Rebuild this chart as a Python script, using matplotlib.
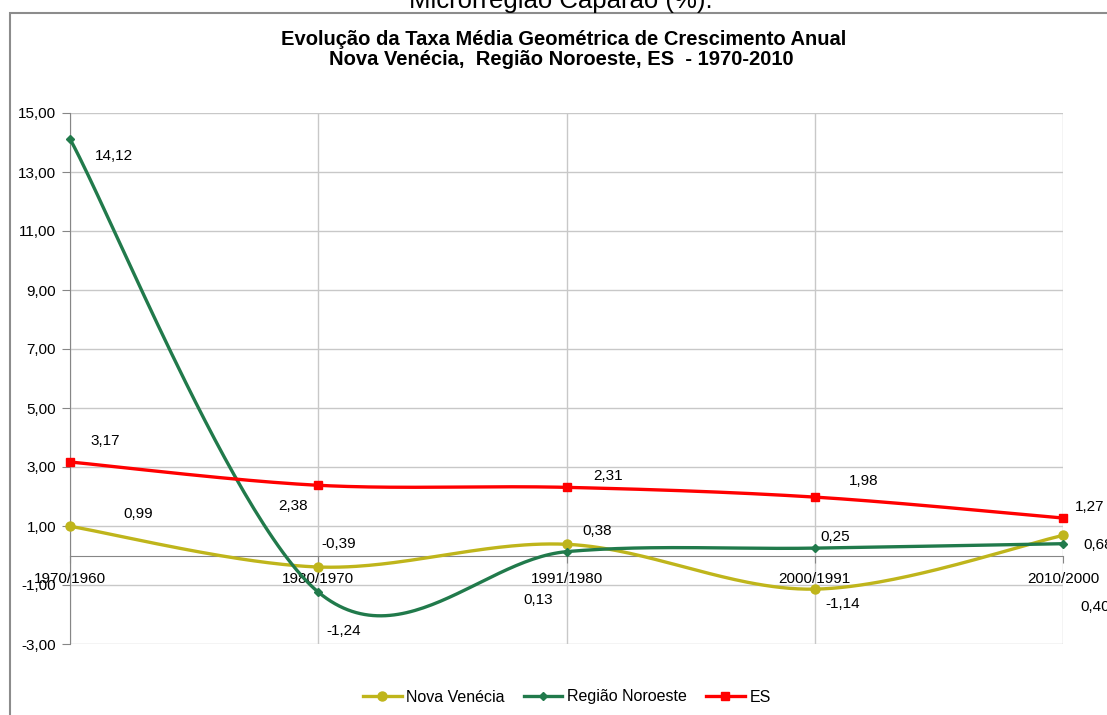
import numpy as np
import matplotlib
matplotlib.use("Agg")
import matplotlib.pyplot as plt
from matplotlib.patches import Rectangle
from matplotlib.ticker import FuncFormatter

plt.rcParams["font.family"] = ["Liberation Sans", "DejaVu Sans"]

periods = ["1970/1960", "1980/1970", "1991/1980", "2000/1991", "2010/2000"]
nova_venecia = [0.99, -0.39, 0.38, -1.14, 0.68]
regiao_noroeste = [14.12, -1.24, 0.13, 0.25, 0.40]
es = [3.17, 2.38, 2.31, 1.98, 1.27]

# label placement in pixels (dx, dy, ha), dy positive = up
nv_offsets = [(68, 12, "center"), (20, 23, "center"), (31, 13, "center"),
              (28, -15, "center"), (20, -10, "left")]
rn_offsets = [(44, -17, "center"), (25, -39, "center"), (-28, -48, "center"),
              (20, 11, "center"), (17, -63, "left")]
es_offsets = [(35, 21, "center"), (-25, -21, "center"), (42, 11, "center"),
              (49, 16, "center"), (27, 11, "center")]


def smooth(y, n=60):
    # Excel-style smoothed line: cubic Bezier through the points
    y = np.asarray(y, dtype=float)
    x = np.arange(len(y), dtype=float)
    pts = np.column_stack([x, y])
    ext = np.vstack([pts[0], pts, pts[-1]])
    out = []
    t = np.linspace(0, 1, n)[:, None]
    for i in range(len(pts) - 1):
        p0, p1, p2, p3 = ext[i], ext[i + 1], ext[i + 2], ext[i + 3]
        c1 = p1 + (p2 - p0) / 6
        c2 = p2 - (p3 - p1) / 6
        seg = ((1 - t) ** 3) * p1 + 3 * ((1 - t) ** 2) * t * c1 \
            + 3 * (1 - t) * t ** 2 * c2 + t ** 3 * p2
        out.append(seg if i == 0 else seg[1:])
    seg = np.vstack(out)
    return seg[:, 0], seg[:, 1]


def fmt(v):
    return f"{v:.2f}".replace(".", ",")


fig = plt.figure(figsize=(11.07, 7.15), dpi=100)
W, H = 1107, 715

# outer chart frame
fig.patches.append(Rectangle((10 / W, -0.1), 1.2, 1 - 13 / H + 0.1,
                             transform=fig.transFigure, fill=False,
                             edgecolor="#8c8c8c", linewidth=1.5))

fig.text(561 / W, 1 - 8 / H, "Microrregião Caparaó (%).", ha="center",
         va="baseline", fontsize=18.5, color="black")
fig.text(564 / W, 1 - 45 / H, "Evolução da Taxa Média Geométrica de Crescimento Anual",
         ha="center", va="baseline", fontsize=14.5, fontweight="bold")
fig.text(561 / W, 1 - 65 / H, "Nova Venécia,  Região Noroeste, ES  - 1970-2010",
         ha="center", va="baseline", fontsize=14.5, fontweight="bold")

ax = fig.add_axes([70 / W, 1 - 644 / H, (1063 - 70) / W, (644 - 113) / H])
ax.set_xlim(0, len(periods) - 1)
ax.set_ylim(-3, 15)
ax.set_yticks(np.arange(-3, 16, 2))
ax.yaxis.set_major_formatter(FuncFormatter(lambda v, p: fmt(v)))
ax.set_xticks(range(len(periods)))
ax.set_xticklabels(periods)
ax.grid(True, color="#c8c8c8", linewidth=1.0)
ax.set_axisbelow(True)

for s in ["top", "right"]:
    ax.spines[s].set_visible(False)
ax.spines["left"].set_color("#868686")
ax.spines["bottom"].set_position(("data", 0))
ax.spines["bottom"].set_color("#868686")
ax.tick_params(axis="y", length=6, color="#868686", labelsize=11, pad=4)
ax.tick_params(axis="x", length=5, color="#868686", labelsize=11, pad=7)

series = [
    ("Nova Venécia", nova_venecia, "#bfb51b", "o", 9, nv_offsets),
    ("Região Noroeste", regiao_noroeste, "#217a4b", "D", 6, rn_offsets),
    ("ES", es, "#ff0000", "s", 8.5, es_offsets),
]

for name, vals, color, marker, ms, offs in series:
    sx, sy = smooth(vals)
    ax.plot(sx, sy, color=color, linewidth=2.4, zorder=3, clip_on=False)
    ax.plot(range(len(vals)), vals, linestyle="none", marker=marker,
            markersize=ms * 0.72, color=color, zorder=4, clip_on=False)
    for i, v in enumerate(vals):
        dx, dy, ha = offs[i]
        ax.annotate(fmt(v), (i, v), xytext=(dx, dy), textcoords="offset pixels",
                    ha=ha, va="center", fontsize=11, annotation_clip=False)

handles = [
    plt.Line2D([], [], color=c, marker=m, markersize=ms * 0.72, linewidth=2.4)
    for _, _, c, m, ms, _ in series
]
fig.legend(handles, [s[0] for s in series], loc="center",
           bbox_to_anchor=(567 / W, 1 - 697 / H), ncol=3, frameon=False,
           fontsize=11.5, handlelength=2.4, handletextpad=0.3,
           columnspacing=1.2)

fig.savefig("out.png", dpi=100)
